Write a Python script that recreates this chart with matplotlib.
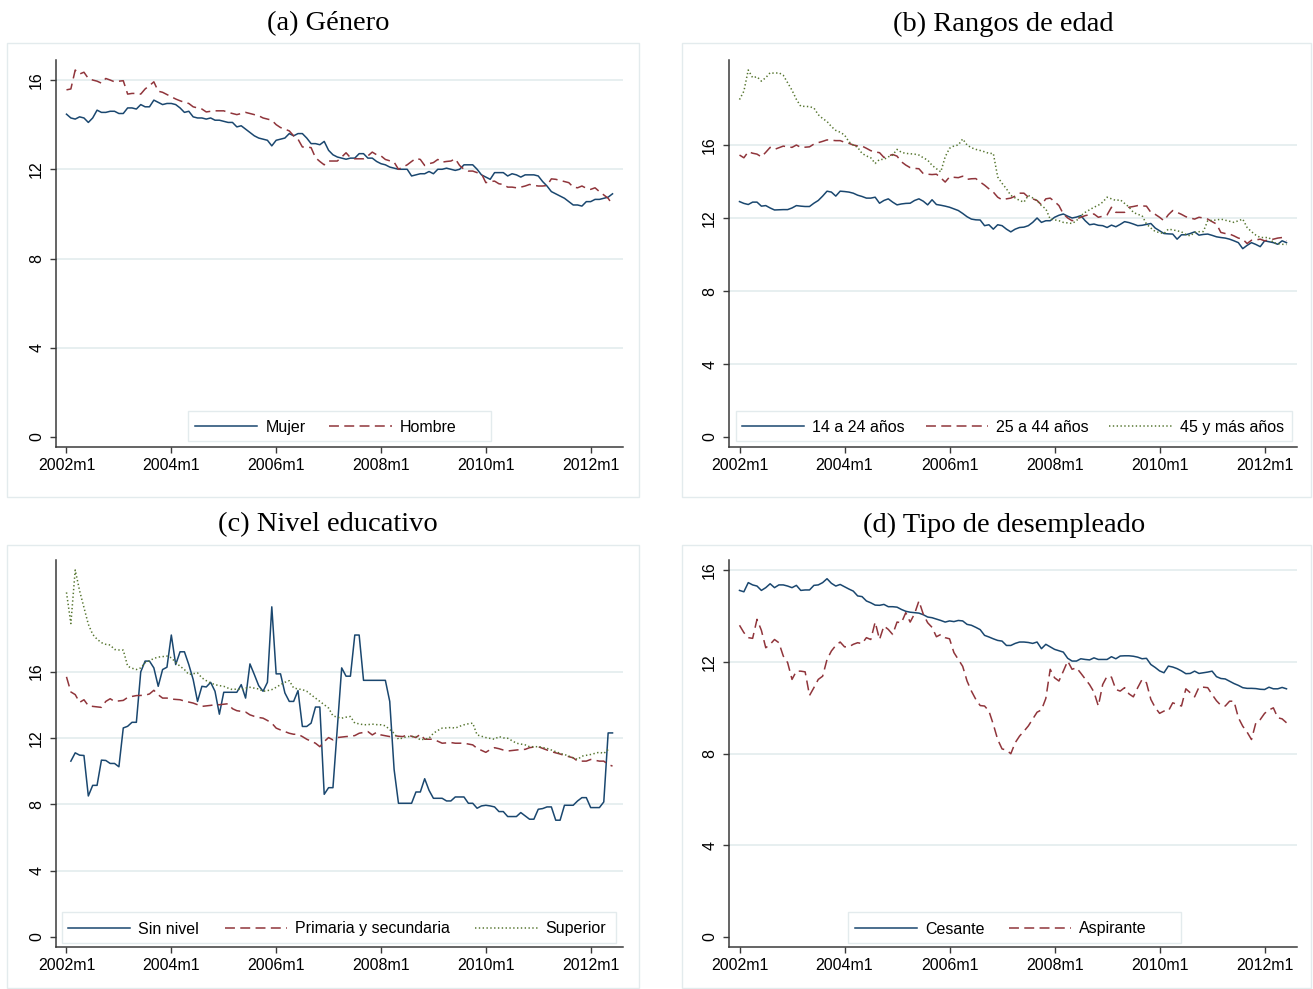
import numpy as np
import matplotlib
matplotlib.use("Agg")
import matplotlib.pyplot as plt
from matplotlib.patches import Rectangle

nan = np.nan
# ---------------- data (monthly, 2002m1 .. 2012m6) ----------------
mujer = [14.47,14.3,14.25,14.35,14.3,14.1,14.3,14.65,14.55,14.55, 14.6,14.6,14.5,14.5,14.75,14.75,14.7,14.9,14.8,14.8,
         15.1,15.0,14.9,14.95,14.95,14.9,14.75,14.55,14.6,14.35, 14.3,14.3,14.25,14.3,14.2,14.2,14.15,14.1,14.1,13.9,
         13.95,13.8,13.65,13.5,13.4,13.35,13.3,13.05,13.3,13.35, 13.4,13.6,13.5,13.6,13.6,13.4,13.15,13.15,13.1,13.25,
         12.85,12.65,12.55,12.5,12.45,12.5,12.5,12.7,12.7,12.5, 12.5,12.35,12.25,12.2,12.1,12.05,12.0,12.0,12.0,11.7,
         11.75,11.8,11.8,11.9,11.8,12.0,12.0,12.05,12.0,11.95, 12.0,12.2,12.2,12.2,12.0,11.75,11.65,11.55,11.85,11.85,
         11.85,11.7,11.8,11.75,11.65,11.75,11.75,11.75,11.7,11.45, 11.25,11.0,10.9,10.8,10.7,10.55,10.4,10.4,10.35,10.55,
         10.55,10.65,10.65,10.7,10.75,10.9]
hombre = [15.56,15.6,16.45,16.27,16.35,16.07,16.0,15.95,15.86,16.07, 16.0,15.92,15.95,15.97,15.37,15.4,15.4,15.37,15.6,15.75,
          15.92,15.5,15.45,15.35,15.25,15.15,15.07,15.0,14.95,14.8, 14.75,14.7,14.57,14.6,14.62,14.62,14.62,14.55,14.5,14.45,
          14.5,14.55,14.5,14.45,14.4,14.3,14.25,14.2,14.0,13.87, 13.8,13.72,13.5,13.35,13.0,13.0,12.97,12.52,12.35,12.2,
          12.37,12.37,12.37,12.55,12.74,12.52,12.47,12.47,12.47,12.6, 12.77,12.65,12.6,12.44,12.38,12.32,12.0,12.1,12.2,12.35,
          12.49,12.44,12.17,12.25,12.3,12.44,12.32,12.35,12.37,12.47, 12.17,12.0,11.92,11.92,11.85,11.8,11.4,11.45,11.47,11.35,
          11.32,11.2,11.2,11.17,11.2,11.25,11.32,11.28,11.25,11.25, 11.27,11.57,11.55,11.5,11.45,11.4,11.2,11.17,11.25,11.15,
          11.1,11.17,11.0,10.85,10.7,10.41]
edad_14_24 = [12.9,12.8,12.74,12.87,12.87,12.65,12.68,12.55,12.44,12.45, 12.46,12.46,12.55,12.68,12.65,12.63,12.63,12.81,12.96,13.2,
              13.47,13.42,13.2,13.47,13.45,13.42,13.36,13.25,13.18,13.09, 13.09,13.14,12.81,12.96,13.05,12.87,12.72,12.77,12.8,12.81,
              12.96,13.05,12.92,12.72,13.0,12.74,12.7,12.65,12.59,12.5, 12.41,12.25,12.07,11.94,11.9,11.89,11.58,11.63,11.39,11.63,
              11.58,11.39,11.24,11.39,11.48,11.5,11.58,11.76,12.0,11.76, 11.85,11.85,12.04,12.15,12.22,12.1,12.0,12.05,12.13,11.85,
              11.63,11.67,11.6,11.58,11.48,11.61,11.52,11.65,11.8,11.75, 11.67,11.58,11.6,11.65,11.7,11.45,11.3,11.15,11.13,11.12,
              10.84,11.08,11.08,11.15,11.24,11.06,11.1,11.12,11.05,10.97, 10.93,10.9,10.84,10.75,10.65,10.32,10.5,10.65,10.55,10.43,
              10.75,10.7,10.65,10.56,10.75,10.65]
edad_25_44 = [15.45,15.3,15.63,15.55,15.5,15.35,15.6,15.87,15.76,15.85, 15.94,15.9,15.87,16.0,15.87,15.88,15.9,16.05,16.13,16.2,
              16.28,16.26,16.24,16.24,16.15,16.09,16.0,15.95,15.94,15.82, 15.69,15.62,15.58,15.32,15.4,15.48,15.39,15.08,14.9,14.76,
              14.72,14.7,14.43,14.4,14.38,14.4,14.2,13.97,14.25,14.23, 14.21,14.29,14.12,14.15,14.16,13.97,13.8,13.6,13.42,13.14,
              13.0,13.05,13.09,13.2,13.36,13.36,13.14,13.05,12.96,12.72, 13.05,13.09,12.9,12.68,12.22,12.0,11.85,11.95,12.04,12.13,
              12.18,12.22,12.04,12.1,12.17,12.59,12.31,12.31,12.31,12.59, 12.63,12.68,12.66,12.65,12.31,12.2,12.04,11.85,12.18,12.41,
              12.31,12.2,12.07,12.0,11.94,12.04,12.0,11.94,11.8,11.67, 11.21,11.15,11.12,11.02,10.9,10.84,10.6,10.78,10.8,10.84,
              10.75,10.8,10.84,10.9,10.93,10.75]
edad_45_mas = [18.49,18.95,20.11,19.69,19.74,19.5,19.69,19.96,19.93,19.96, 19.82,19.41,19.0,18.5,18.12,18.12,18.1,18.03,17.66,17.45,
               17.29,17.01,16.8,16.7,16.55,16.18,16.0,15.87,15.54,15.4, 15.3,14.99,15.21,15.21,15.35,15.45,15.76,15.6,15.54,15.52,
               15.5,15.45,15.3,15.17,14.89,14.7,14.53,15.35,15.82,15.95, 16.0,16.33,16.0,15.85,15.76,15.7,15.63,15.54,15.54,14.25,
               13.9,13.6,13.24,13.1,12.96,12.87,13.24,13.1,12.96,12.68, 12.5,11.94,11.9,11.85,11.76,11.73,11.7,11.85,12.13,12.31,
               12.45,12.59,12.7,12.87,13.14,13.05,12.96,13.0,12.8,12.6, 12.31,12.2,12.13,11.67,11.45,11.26,11.2,11.15,11.39,11.35,
               11.3,11.24,11.1,11.02,11.21,11.25,11.26,11.85,11.87,11.89, 11.94,11.88,11.82,11.76,11.85,11.94,11.48,11.25,11.06,10.93,
               10.93,10.93,10.65,10.6,10.56,10.55]
sin_nivel = [nan,10.6,11.1,10.96,10.94,8.5,9.14,9.14,10.66,10.64, 10.46,10.46,10.26,12.6,12.7,12.94,12.94,15.98,16.63,16.63,
             16.22,15.11,16.12,16.26,18.2,16.42,17.19,17.19,16.42,15.52, 14.2,15.11,15.07,15.35,14.81,13.43,14.75,14.75,14.75,14.75,
             15.21,14.4,16.46,15.82,15.15,14.81,15.35,19.9,15.86,15.86, 14.71,14.2,14.2,14.85,12.69,12.69,12.89,13.86,13.86,8.6,
             9.0,9.0,12.6,16.22,15.72,15.72,18.2,18.2,15.47,15.47, 15.47,15.47,15.47,15.47,14.2,10.1,8.06,8.06,8.06,8.06,
             8.74,8.74,9.54,8.84,8.36,8.36,8.36,8.2,8.2,8.44, 8.44,8.44,8.06,8.06,7.76,7.9,7.94,7.9,7.84,7.56,
             7.56,7.26,7.26,7.26,7.5,7.3,7.1,7.1,7.7,7.74, 7.84,7.84,7.04,7.04,7.94,7.94,7.94,8.2,8.4,8.4,
             7.8,7.8,7.8,8.14,12.3,12.3]
primaria_secundaria = [15.68,14.77,14.61,14.14,14.3,13.94,13.9,13.87,13.84,14.2, 14.36,14.2,14.23,14.26,14.44,14.5,14.55,14.56,14.57,14.65,
                       14.87,14.6,14.4,14.4,14.34,14.32,14.3,14.22,14.16,14.1, 14.0,13.9,13.93,13.96,14.0,14.0,14.03,14.06,13.76,13.64,
                       13.6,13.56,13.39,13.3,13.23,13.19,13.05,12.89,12.59,12.48, 12.38,12.28,12.22,12.22,12.08,11.92,11.8,11.68,11.47,11.78,
                       12.02,11.88,12.02,12.05,12.08,12.1,12.14,12.28,12.33,12.38, 12.18,12.34,12.18,12.13,12.08,12.14,12.1,12.08,12.18,12.1,
                       12.02,12.22,11.92,11.92,11.92,11.8,11.68,11.7,11.72,11.68, 11.68,11.68,11.63,11.58,11.37,11.25,11.13,11.3,11.41,11.35,
                       11.27,11.21,11.24,11.27,11.3,11.31,11.41,11.45,11.47,11.37, 11.27,11.17,11.1,11.03,10.94,10.87,10.8,10.6,10.6,10.6,
                       10.7,10.65,10.6,10.6,10.4,10.3]
superior = [20.77,18.89,22.12,20.87,19.86,18.85,18.24,17.95,17.74,17.64, 17.6,17.33,17.3,17.29,16.32,16.2,16.12,16.22,16.53,16.65,
            16.79,16.87,16.9,16.93,16.83,16.55,16.32,16.12,15.82,15.87, 15.92,15.62,15.45,15.31,15.21,15.15,15.11,15.0,14.91,14.95,
            14.91,15.0,15.05,15.0,14.95,14.81,14.85,14.91,15.05,15.21, 15.35,15.45,15.01,14.95,14.91,14.81,14.6,14.4,14.2,14.0,
            13.8,13.33,13.25,13.19,13.25,13.29,12.89,12.85,12.79,12.8, 12.83,12.8,12.79,12.73,12.5,12.28,11.92,12.0,12.08,12.08,
            12.08,11.88,11.93,11.98,12.28,12.45,12.59,12.6,12.63,12.59, 12.7,12.79,12.85,12.89,12.18,12.1,12.02,11.97,11.92,12.08,
            12.0,11.98,11.83,11.68,11.63,11.58,11.47,11.47,11.47,11.42, 11.37,11.27,11.17,11.07,11.0,10.9,10.8,10.7,10.9,10.95,
            11.0,11.07,11.14,11.06,11.3,nan]
cesante = [15.11,15.05,15.45,15.35,15.3,15.11,15.23,15.4,15.23,15.35, 15.35,15.3,15.23,15.33,15.11,15.13,15.13,15.33,15.35,15.45,
           15.62,15.42,15.3,15.37,15.27,15.17,15.08,14.87,14.84,14.65, 14.57,14.47,14.46,14.5,14.4,14.4,14.38,14.28,14.2,14.16,
           14.14,14.12,14.05,13.95,13.92,13.86,13.8,13.73,13.78,13.75, 13.8,13.78,13.63,13.59,13.5,13.4,13.15,13.08,13.0,12.93,
           12.9,12.71,12.71,12.8,12.86,12.86,12.84,12.8,12.86,12.57, 12.76,12.65,12.54,12.48,12.42,12.15,12.03,12.03,12.13,12.1,
           12.08,12.17,12.1,12.1,12.1,12.22,12.13,12.25,12.26,12.26, 12.24,12.2,12.13,12.15,11.88,11.75,11.6,11.52,11.81,11.77,
           11.7,11.6,11.48,11.49,11.59,11.49,11.52,11.55,11.59,11.35, 11.27,11.25,11.15,11.05,10.97,10.87,10.84,10.84,10.83,10.8,
           10.79,10.89,10.82,10.82,10.88,10.82]
aspirante = [13.59,13.27,13.05,13.02,13.85,13.37,12.61,12.76,12.97,12.83, 12.25,11.96,11.23,11.59,11.59,11.56,10.53,10.87,11.23,11.37,
             12.1,12.47,12.71,12.86,12.65,12.65,12.76,12.83,12.79,13.05, 12.97,13.73,12.97,13.56,13.41,13.19,13.73,13.7,14.14,13.73,
             14.09,14.65,14.07,13.7,13.5,13.09,13.19,13.05,13.0,12.4, 12.1,11.8,11.16,10.72,10.36,10.09,10.07,9.85,9.27,8.61,
             8.2,8.15,7.99,8.47,8.76,8.97,9.2,9.5,9.8,9.9, 10.4,11.67,11.3,11.16,11.59,12.03,11.67,11.74,11.5,11.25,
             11.0,10.68,10.07,11.01,11.37,11.33,10.79,10.72,10.87,10.6, 10.47,10.87,11.23,11.08,10.36,10.0,9.75,9.85,9.85,10.21,
             10.14,10.07,10.82,10.65,10.47,10.89,10.89,10.87,10.57,10.3, 10.1,10.07,10.28,10.28,9.56,9.19,8.93,8.61,9.34,9.48,
             9.75,9.9,9.99,9.56,9.51,9.34]

months = np.arange(len(mujer))
xtick_pos = [0, 24, 48, 72, 96, 120]
xtick_labels = ["2002m1", "2004m1", "2006m1", "2008m1", "2010m1", "2012m1"]
ytick_vals = [0, 4, 8, 12, 16]

titles = ["(a) Género", "(b) Rangos de edad", "(c) Nivel educativo", "(d) Tipo de desempleado"]
panels = [
    [("Mujer", mujer), ("Hombre", hombre)],
    [("14 a 24 años", edad_14_24), ("25 a 44 años", edad_25_44), ("45 y más años", edad_45_mas)],
    [("Sin nivel", sin_nivel), ("Primaria y secundaria", primaria_secundaria), ("Superior", superior)],
    [("Cesante", cesante), ("Aspirante", aspirante)],
]

# ---------------- styling ----------------
plt.rcParams['font.family'] = ['Liberation Sans', 'DejaVu Sans']
W, H = 1313, 989
fig = plt.figure(figsize=(W / 100, H / 100), dpi=100)
fig.patch.set_facecolor("white")

colors = ["#1a476f", "#90353b", "#55752f"]
styles = [dict(linestyle="-"), dict(dashes=(6.5, 3.5)), dict(dashes=(0.9, 1.6))]
axis_col = "#3a3a3a"
grid_col = "#e3ecee"
box_col = "#e3ebed"

def fx(px):
    return px / W

def fy(py):
    return 1 - py / H

# plot area (left, right, top, bottom) in pixels
plot_px = [(56, 623, 60, 447), (729, 1297, 60, 447), (56, 623, 560, 947), (729, 1297, 560, 947)]
outer_px = [(7, 639, 43, 497), (682, 1311, 43, 497), (7, 639, 545, 988), (682, 1311, 545, 988)]
title_px = [(328, 24), (1003, 24), (328, 525), (1004, 525)]
legend_px = [(195, 427.5), (742, 427.5), (68, 929), (855, 929)]
legend_box_px = [(188, 491, 411, 441), (736, 1292, 411, 441), (62, 616, 912, 943), (848, 1181, 912, 943)]
legend_colspace = [1.5, 1.3, 1.6, 1.5]

for i, series in enumerate(panels):
    l, r, t, b = plot_px[i]
    ax = fig.add_axes([fx(l), fy(b), (r - l) / W, (b - t) / H])
    handles = []
    for j, (lab, vals) in enumerate(series):
        ln, = ax.plot(months, vals, color=colors[j], lw=1.1, label=lab, **styles[j],
                      solid_joinstyle="round")
        handles.append(ln)
    hi = max(np.nanmax([np.nanmax(v) for _, v in series]), max(ytick_vals))
    lo = min(ytick_vals)
    pad = (hi - lo) * 10.0 / 367.0
    ax.set_ylim(lo - pad, hi + pad)
    ax.set_xlim(-2.4, len(months) - 1 + 2.4)
    for v in ytick_vals[1:]:
        ax.axhline(v, color=grid_col, lw=1.2, zorder=0)
    ax.set_xticks(xtick_pos)
    ax.set_xticklabels(xtick_labels)
    ax.set_yticks(ytick_vals)
    ax.set_yticklabels([str(v) for v in ytick_vals])
    for s in ["top", "right"]:
        ax.spines[s].set_visible(False)
    for s in ["left", "bottom"]:
        ax.spines[s].set_color(axis_col)
        ax.spines[s].set_linewidth(1.1)
    ax.tick_params(direction="out", length=4.5, width=1.0, color=axis_col,
                   labelsize=11.5, labelcolor="black")
    ax.tick_params(axis="x", pad=3.5)
    ax.tick_params(axis="y", labelrotation=90, pad=4)
    for lbl in ax.get_yticklabels():
        lbl.set_va("center")
    ax.set_facecolor("none")

    # outer graph-region box
    ol, orr, ot, ob = outer_px[i]
    fig.add_artist(Rectangle((fx(ol), fy(ob)), (orr - ol) / W, (ob - ot) / H,
                             transform=fig.transFigure, fill=False, edgecolor=box_col, lw=1.0))
    # title
    tx, ty = title_px[i]
    fig.text(fx(tx), fy(ty), titles[i], ha="center", va="center",
             family=["Liberation Serif", "DejaVu Serif"], fontsize=20.5)
    # legend box + legend
    bl, br, bt, bb = legend_box_px[i]
    fig.add_artist(Rectangle((fx(bl), fy(bb)), (br - bl) / W, (bb - bt) / H,
                             transform=fig.transFigure, fill=False, edgecolor=box_col, lw=1.0))
    lx, ly = legend_px[i]
    fig.legend(handles, [h.get_label() for h in handles], loc="center left",
               bbox_to_anchor=(fx(lx), fy(ly)), ncol=len(handles), frameon=False,
               borderpad=0, borderaxespad=0, handlelength=3.9, handletextpad=0.5,
               columnspacing=legend_colspace[i], fontsize=11.5)

fig.savefig("out.png", dpi=100, facecolor="white")
